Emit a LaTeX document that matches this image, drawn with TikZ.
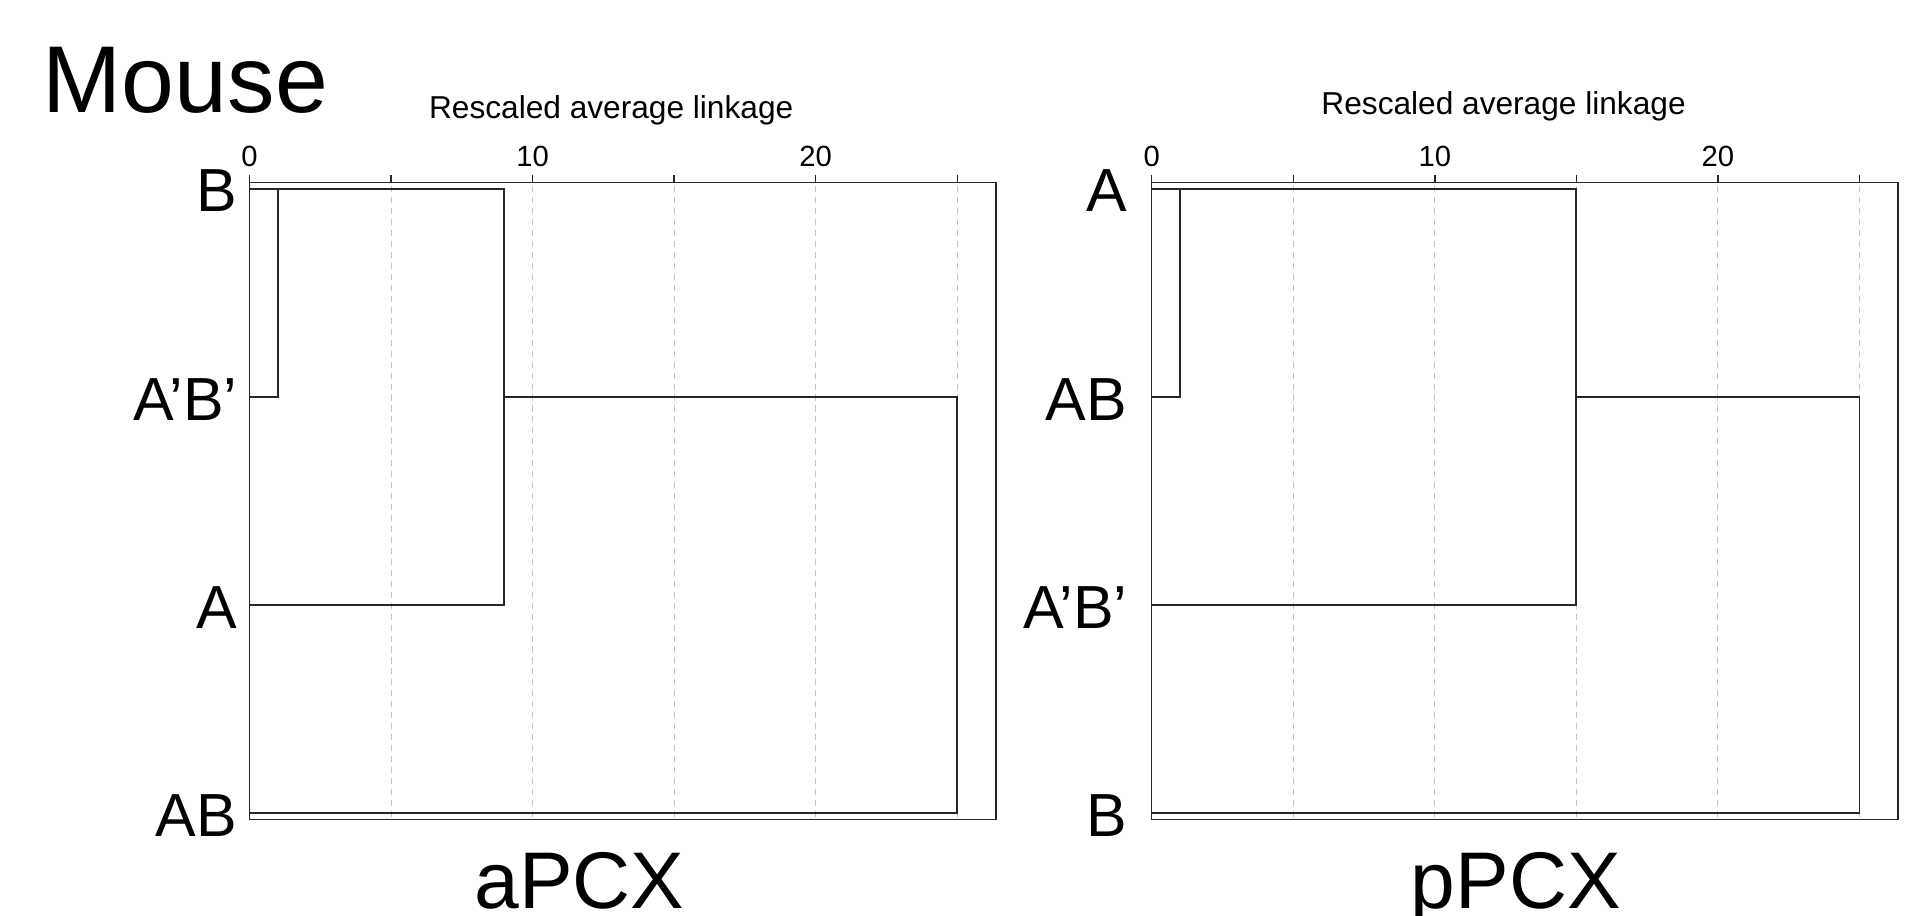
\documentclass[tikz,border=0pt]{standalone}
\usepackage{fontspec}
\setmainfont{Liberation Sans}
\usetikzlibrary{positioning}

\begin{document}
\begin{tikzpicture}[x=1pt,y=-1pt,
  leaf/.style={anchor=base east,inner sep=0pt,font=\fontsize{50}{60}\selectfont},
  ticklab/.style={anchor=base,inner sep=0pt,font=\fontsize{24}{28}\selectfont},
  axtitle/.style={anchor=base,inner sep=0pt,font=\fontsize{26}{30}\selectfont},
  paneltitle/.style={anchor=base,inner sep=0pt,font=\fontsize{66}{70}\selectfont},
  frame/.style={draw=black!85,line width=1.2pt},
  dendro/.style={draw=black!85,line width=1.4pt},
  gridline/.style={draw=gray!45,line width=0.8pt,dash pattern=on 5pt off 4pt}]
\useasboundingbox (0,0) rectangle (1568,752);

% Species title
\node[anchor=base west,inner sep=0pt,font=\fontsize{78}{80}\selectfont] (mouse) at (35,92) {Mouse};

% One dendrogram per protein
\foreach \p/\ox/\mj/\ta/\tb/\tc/\td/\ttl/\tx/\ax/\ay/\lg in {a/205/9/B/A’B’/A/AB/aPCX/271/297/97/10, p/946/15/A/AB/A’B’/B/pPCX/299/289/94/20} {
  \begin{scope}[shift={(\ox,0)}]
    % frame, grid and ticks
    \draw[frame] (0,150) rectangle (613,673);
    \foreach \v in {5,10,...,25}
      \draw[gridline] (\v*23.25,153) -- (\v*23.25,671);
    \foreach \v in {0,5,...,25}
      \draw[frame] (\v*23.25,150) -- (\v*23.25,144);
    \foreach \v in {0,10,20}
      \node[ticklab] (tick-\p-\v) at (\v*23.25,137) {\v};
    \node[axtitle] (axis-\p) at (\ax,\ay) {Rescaled average linkage};

    % leaves
    \coordinate (leaf-\p-1) at (0,155);
    \coordinate (leaf-\p-2) at (0,326);
    \coordinate (leaf-\p-3) at (0,497);
    \coordinate (leaf-\p-4) at (0,668);
    \node[leaf] (lab-\p-1) at (-\lg,174) {\ta};
    \node[leaf] (lab-\p-2) at (-\lg,345) {\tb};
    \node[leaf] (lab-\p-3) at (-\lg,516) {\tc};
    \node[leaf] (lab-\p-4) at (-\lg,687) {\td};

    % merges
    \coordinate (m1-\p) at (1*23.25,155);
    \coordinate (m2-\p) at (\mj*23.25,155);
    \coordinate (m3-\p) at (25*23.25,326);
    \draw[dendro] (leaf-\p-1) -- (m1-\p) |- (leaf-\p-2);
    \draw[dendro] (m1-\p) -- (m2-\p) |- (leaf-\p-3);
    \draw[dendro] (m2-\p |- leaf-\p-2) -- (m3-\p) |- (leaf-\p-4);

    \node[paneltitle] (title-\p) at (\tx,746) {\ttl};
  \end{scope}
}
\end{tikzpicture}
\end{document}
